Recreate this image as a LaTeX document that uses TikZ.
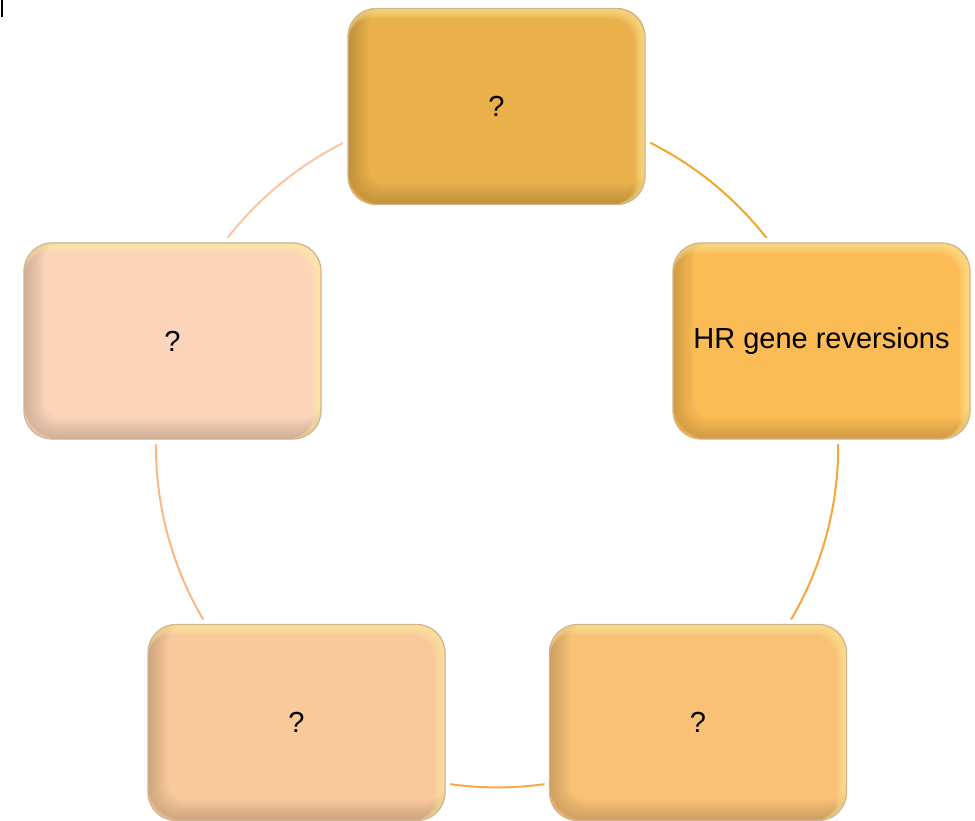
\documentclass[tikz,border=0pt]{standalone}
\usepackage{fontspec}
\setmainfont{Liberation Sans}
\usetikzlibrary{backgrounds}
\definecolor{cTop}{HTML}{E9B04C}
\definecolor{cRight}{HTML}{FBBB55}
\definecolor{cBR}{HTML}{F8C176}
\definecolor{cBL}{HTML}{F9C99B}
\definecolor{cLeft}{HTML}{FBD4BA}
\definecolor{edgeTan}{HTML}{D2B48E}
\definecolor{hiLite}{HTML}{FFF2A0}
\definecolor{aOne}{HTML}{F2A62A}
\definecolor{aTwo}{HTML}{F6A536}
\definecolor{aThree}{HTML}{F7A94A}
\definecolor{aFour}{HTML}{FAB784}
\definecolor{aFive}{HTML}{F9C6A4}
\tikzset{
  box/.style={rounded corners=28pt, minimum width=297pt, minimum height=196pt,
    fill=#1, draw=edgeTan, line width=1.2pt,
    preaction={draw=white, line width=10pt},
    font=\fontsize{29}{34}\selectfont, text=black, inner sep=0pt,
    path picture={
      \foreach \w in {2,4,...,20}{
        \draw[line width=\w pt, #1!50!black, opacity=0.035, rounded corners=28pt]
          ([xshift={\w*0.5pt},yshift={\w*0.5pt}]path picture bounding box.south west) rectangle
          ([xshift={\w*0.5pt},yshift={\w*0.5pt}]path picture bounding box.north east);
      }
      \foreach \w in {2,4,...,10}{
        \draw[line width=\w pt, hiLite, opacity=0.16, rounded corners=28pt]
          ([xshift={-\w*0.5pt},yshift={-\w*0.5pt}]path picture bounding box.south west) rectangle
          ([xshift={-\w*0.5pt},yshift={-\w*0.5pt}]path picture bounding box.north east);
      }
    }},
  arcline/.style={line width=2pt, draw=#1, bend left=36, looseness=0.94}
}
\begin{document}
\begin{tikzpicture}[x=1pt,y=-1pt]
\useasboundingbox (0,0) rectangle (975,821);
\fill[black] (0.5,0) rectangle (3,17);
\node[box=cTop]   (top)   at (496.5,106.5) {?};
\node[box=cRight] (right) at (821.5,341)   {HR gene reversions};
\node[box=cBR]    (br)    at (698,722.5)   {?};
\node[box=cBL]    (bl)    at (296.5,722.5) {?};
\node[box=cLeft]  (left)  at (172.5,341)   {?};
\begin{pgfonlayer}{background}
\draw[arcline=aOne]   (top.center)   to (right.center);
\draw[arcline=aTwo]   (right.center) to (br.center);
\draw[arcline=aThree] (br.center)    to (bl.center);
\draw[arcline=aFour]  (bl.center)    to (left.center);
\draw[arcline=aFive]  (left.center)  to (top.center);
\end{pgfonlayer}
\end{tikzpicture}
\end{document}
